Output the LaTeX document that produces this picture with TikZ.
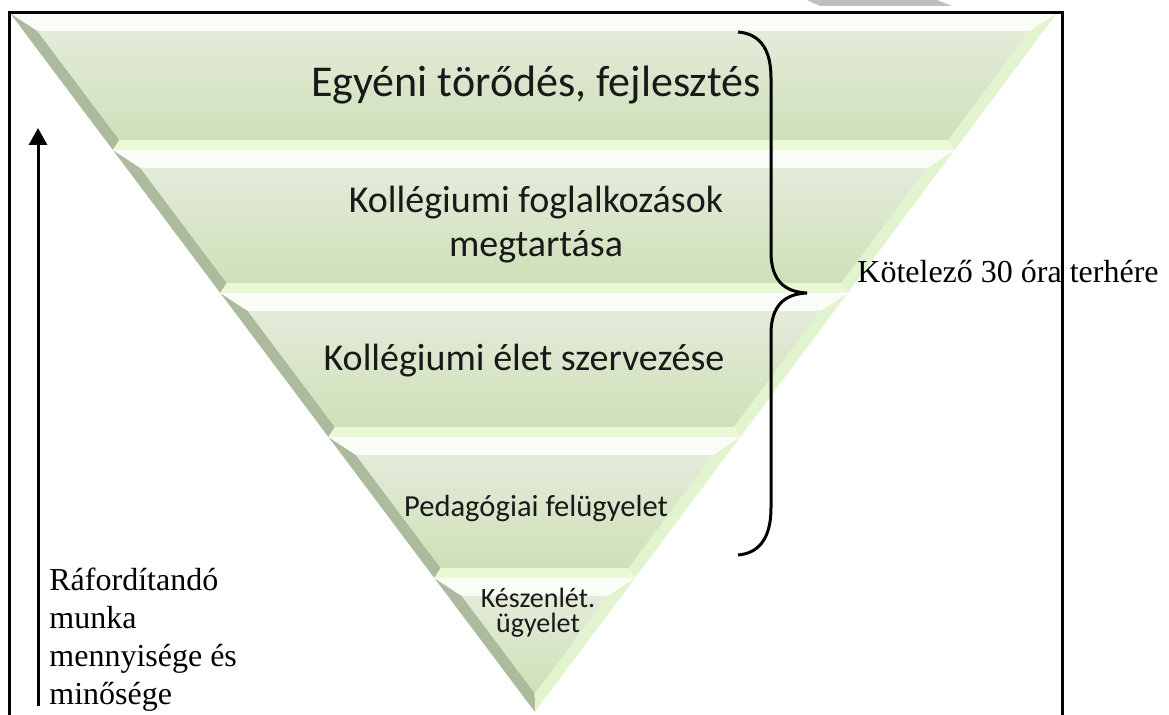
\documentclass[tikz,border=0pt]{standalone}
\usepackage{fontspec}
\setmainfont{Liberation Serif}
\newfontfamily\calibri{Carlito}
\usetikzlibrary{arrows.meta}

\definecolor{bandtop}{RGB}{228,235,218}
\definecolor{bandbot}{RGB}{206,224,184}
\definecolor{bevelleft}{RGB}{172,187,158}
\definecolor{bevelright}{RGB}{226,244,206}
\definecolor{bevelbot}{RGB}{234,248,214}
\definecolor{beveltop}{RGB}{250,252,247}

\begin{document}
\begin{tikzpicture}[
    x=0.5pt, y=-0.5pt,
    level/.style={inner sep=0pt, anchor=base, align=center, text=black!90},
    side/.style={inner sep=0pt, font=\fontsize{16}{19}\selectfont}
]
    \useasboundingbox (0,0) rectangle (1169,715);

    % mark on the top edge
    \fill[black!25] (807,0) -- (937,0) -- (952,6) -- (820,6) -- cycle;

    % the bands of the pyramid
    \foreach \yt/\yb in {13/150, 150/293, 293/437, 437/578, 578/712} {
        \pgfmathsetmacro\yit{\yt+18}
        \pgfmathsetmacro\yib{min(\yb-10,693)}
        \coordinate (TL) at ({10+0.751*(\yt-13)},\yt);
        \coordinate (TR) at ({1057-0.747*(\yt-13)},\yt);
        \coordinate (BL) at ({10+0.751*(\yb-13)},\yb);
        \coordinate (BR) at ({1057-0.747*(\yb-13)},\yb);
        \coordinate (ITL) at ({24+0.751*(\yit-13)},\yit);
        \coordinate (ITR) at ({1043-0.747*(\yit-13)},\yit);
        \coordinate (IBL) at ({24+0.751*(\yib-13)},\yib);
        \coordinate (IBR) at ({1043-0.747*(\yib-13)},\yib);
        \fill[bevelright] (TR) -- (BR) -- (IBR) -- (ITR) -- cycle;
        \fill[bevelleft] (TL) -- (ITL) -- (IBL) -- (BL) -- cycle;
        \fill[bevelbot] (BL) -- (BR) -- (IBR) -- (IBL) -- cycle;
        \fill[beveltop] (TL) -- (TR) -- (ITR) -- (ITL) -- cycle;
        \shade[top color=bandtop, bottom color=bandbot]
            (ITL) -- (ITR) -- (IBR) -- (IBL) -- cycle;
    }

    % frame, arrow and brace
    \coordinate (F1) at (9,715);
    \coordinate (F2) at (9,13);
    \coordinate (F3) at (1062,13);
    \coordinate (F4) at (1062,715);
    \coordinate (arrowlow) at (38,706);
    \coordinate (arrowtop) at (38,128);
    \coordinate (bracetop) at (738,32);
    \coordinate (bracetip) at (807,293);
    \coordinate (bracelow) at (738,555);

    \draw[line width=1.5pt]
        (F1)--(F2)--(F3)--(F4);
    \draw[line width=1.5pt, -{Triangle[width=9pt,length=8.5pt]}]
        (arrowlow)--(arrowtop);
    \draw[line width=1.5pt]
        (bracetop) .. controls (762,34) and (771,52) .. (771,78) -- (771,252)
        .. controls (771,280) and (784,292) .. (bracetip)
        .. controls (784,294) and (771,306) .. (771,334) -- (771,508)
        .. controls (771,534) and (762,553) .. (bracelow);

    % labels of the bands (base = last line)
    \node[level, font=\calibri\fontsize{22}{25}\selectfont] (egyeni) at (536,97)
        {Egyéni törődés, fejlesztés};
    \node[level, font=\calibri\fontsize{19}{22}\selectfont] (foglalkozas) at (536,257)
        {Kollégiumi foglalkozások\\megtartása};
    \node[level, font=\calibri\fontsize{19}{22}\selectfont] (elet) at (524,371)
        {Kollégiumi élet szervezése};
    \node[level, font=\calibri\fontsize{15.3}{18}\selectfont] (felugyelet) at (536,517)
        {Pedagógiai felügyelet};
    \node[level, font=\calibri\fontsize{14}{12.5}\selectfont] (keszenlet) at (538,633)
        {Készenlét.\\ügyelet};

    % side texts
    \node[side, anchor=base west] (kotelezo) at (857,283) {Kötelező 30 óra terhére};
    \node[side, anchor=base west, align=left] (munka) at (49,705)
        {Ráfordítandó\\munka\\mennyisége és\\minősége};
\end{tikzpicture}
\end{document}
